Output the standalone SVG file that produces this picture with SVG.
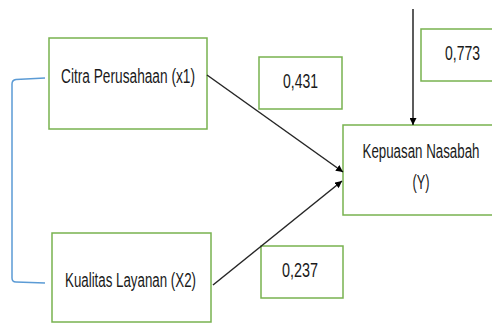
<svg xmlns="http://www.w3.org/2000/svg" width="492" height="323" viewBox="0 0 492 323">
<style>
.box{fill:#fff;stroke:#78b24f;stroke-width:1.5}
.t{font-family:"Liberation Sans",Arial,sans-serif;font-size:20px;fill:#1a1a1a;text-anchor:middle}
.c{fill:none;stroke:#262626;stroke-width:1.5}
</style>
<defs>
<marker id="ah" viewBox="0 0 10 10" refX="10" refY="5" markerWidth="7" markerHeight="7" markerUnits="userSpaceOnUse" orient="auto">
<path d="M0,0 L10,5 L0,10 Z" fill="#000"/>
</marker>
</defs>
<rect width="492" height="323" fill="#fff"/>
<g id="bracket">
<path d="M45,78 L16,79.5 Q12,80 12,84 L12,278 Q12,282 16,282 L45,283" fill="none" stroke="#5b9bd5" stroke-width="1.5"/>
</g>
<g id="x1">
<rect class="box" x="49" y="38" width="158" height="91"/>
<text class="t" x="128" y="83" textLength="134" lengthAdjust="spacingAndGlyphs">Citra Perusahaan (x1)</text>
</g>
<g id="x2">
<rect class="box" x="52" y="233" width="159" height="89"/>
<text class="t" x="130.5" y="287" textLength="131" lengthAdjust="spacingAndGlyphs">Kualitas Layanan (X2)</text>
</g>
<g id="y">
<rect class="box" x="343" y="125" width="150" height="90"/>
<text class="t" x="421" y="158" textLength="117" lengthAdjust="spacingAndGlyphs">Kepuasan Nasabah</text>
<text class="t" x="421" y="189" textLength="17" lengthAdjust="spacingAndGlyphs">(Y)</text>
</g>
<g id="l431">
<rect class="box" x="259" y="57" width="83" height="52"/>
<text class="t" x="300.5" y="88" textLength="35" lengthAdjust="spacingAndGlyphs">0,431</text>
</g>
<g id="l773">
<rect class="box" x="421" y="29" width="72" height="52"/>
<text class="t" x="462.5" y="60" textLength="35" lengthAdjust="spacingAndGlyphs">0,773</text>
</g>
<g id="l237">
<rect class="box" x="261" y="246" width="82" height="52"/>
<text class="t" x="300" y="277" textLength="36" lengthAdjust="spacingAndGlyphs">0,237</text>
</g>
<g id="connectors">
<line class="c" x1="207" y1="75" x2="343" y2="172" marker-end="url(#ah)"/>
<line class="c" x1="213" y1="285" x2="342" y2="181" marker-end="url(#ah)"/>
<line class="c" x1="413" y1="9" x2="413" y2="125" marker-end="url(#ah)"/>
</g>
</svg>
